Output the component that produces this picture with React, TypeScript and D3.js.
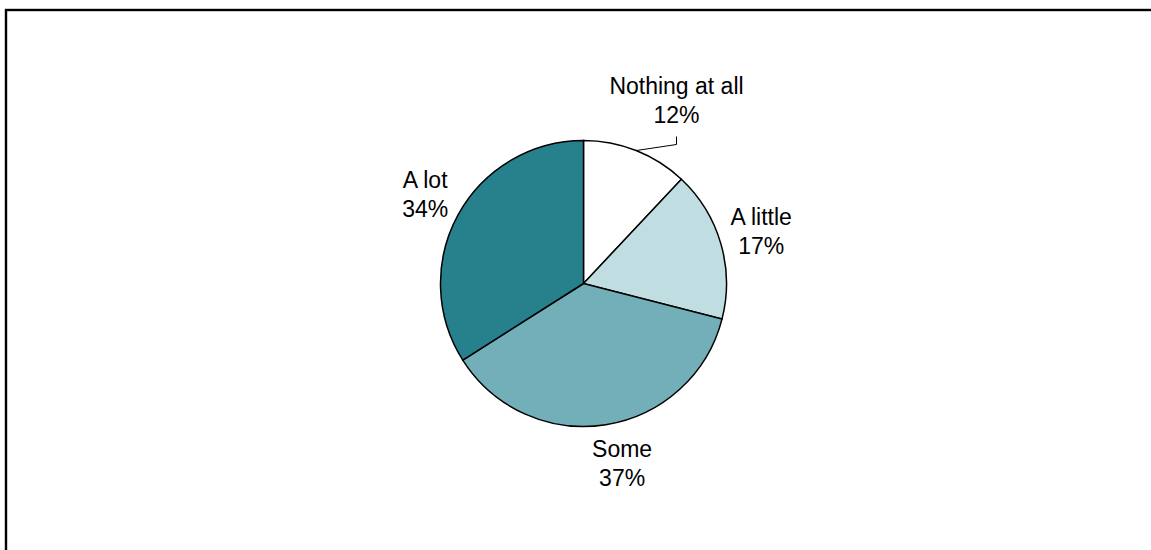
import React from "react";
import * as d3 from "d3";

const categories = ["Nothing at all", "A little", "Some", "A lot"];
const values = [12, 17, 37, 34];
const colors = ["#ffffff", "#c0dde1", "#72afb8", "#26818c"];

const W = 1151;
const H = 550;
const cx = 583.5;
const cy = 283.5;
const R = 143;

export default function App() {
  const pie = d3.pie<number>().sort(null).value((d) => d)(values);
  const arc = d3.arc<d3.PieArcDatum<number>>().innerRadius(0).outerRadius(R);
  const labelArc = d3.arc<d3.PieArcDatum<number>>().innerRadius(183).outerRadius(183);
  const fontSize = 23;
  const nudgeX = [0, 2, 10, 2];

  return (
    <svg
      width={W}
      height={H}
      style={{ position: "absolute", left: 0, top: 0, background: "#fff" }}
      fontFamily="'Liberation Sans', Arial, sans-serif"
    >
      <rect x={6} y={10} width={W + 50} height={H + 50} fill="none" stroke="#000" strokeWidth={2.4} />
      <g transform={`translate(${cx},${cy})`}>
        {pie.map((p, i) => (
          <path key={i} d={arc(p) || ""} fill={colors[i]} stroke="#000" strokeWidth={1.5} />
        ))}
        {pie.map((p, i) => {
          const mid = (p.startAngle + p.endAngle) / 2;
          let lx: number, ly: number;
          let leader: string | null = null;
          if (i === 0) {
            const ax = Math.sin(mid) * R;
            const ay = -Math.cos(mid) * R;
            lx = 93;
            ly = -183;
            leader = `M${ax},${ay}L${lx},${-139}L${lx},${-147}`;
          } else {
            const c = labelArc.centroid(p);
            lx = c[0] + nudgeX[i];
            ly = c[1];
          }
          return (
            <g key={"l" + i}>
              {leader && <path d={leader} fill="none" stroke="#000" strokeWidth={1} />}
              <text textAnchor="middle" fontSize={fontSize} fill="#000">
                <tspan x={lx} y={ly - 7}>{categories[i]}</tspan>
                <tspan x={lx} y={ly + 22}>{values[i] + "%"}</tspan>
              </text>
            </g>
          );
        })}
      </g>
    </svg>
  );
}
